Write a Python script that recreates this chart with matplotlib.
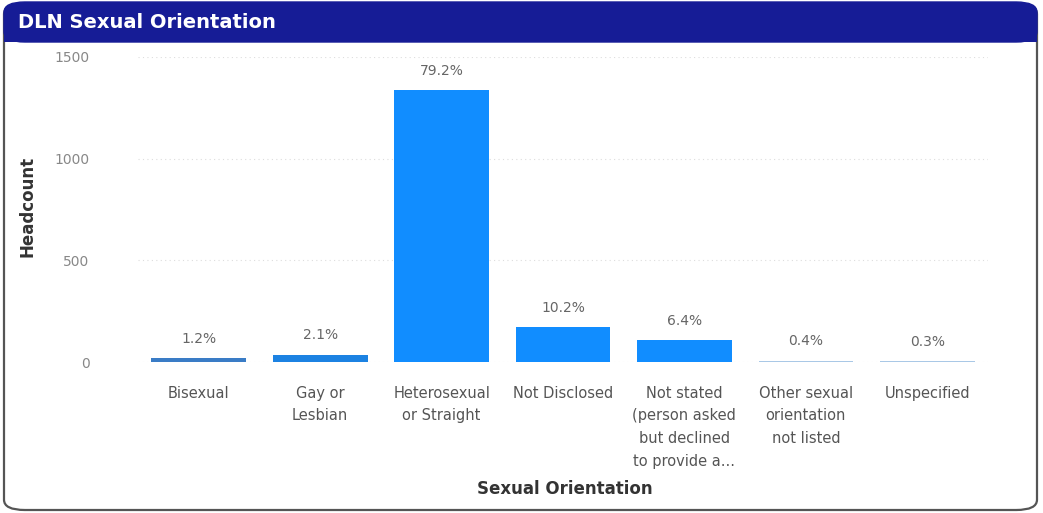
import matplotlib
matplotlib.use("Agg")
import matplotlib.pyplot as plt
from matplotlib.patches import FancyBboxPatch, Rectangle

categories = ["Bisexual", "Gay or\nLesbian", "Heterosexual\nor Straight", "Not Disclosed",
              "Not stated\n(person asked\nbut declined\nto provide a...",
              "Other sexual\norientation\nnot listed", "Unspecified"]
headcount = [20, 36, 1338, 172, 108, 7, 5]
pct_labels = ["1.2%", "2.1%", "79.2%", "10.2%", "6.4%", "0.4%", "0.3%"]
bar_colors = ["#3a7cc6", "#1c82e2", "#118DFF", "#118DFF", "#118DFF", "#a9c8e6", "#a9c8e6"]
y_ticks = [0, 500, 1000, 1500]

W, H = 1043, 513
fig = plt.figure(figsize=(W / 100, H / 100), dpi=100)
fig.patch.set_facecolor("white")

# card border
card = FancyBboxPatch((4 / W, 3 / H), 1033 / W, 506 / H,
                      boxstyle="round,pad=0,rounding_size=0.02",
                      transform=fig.transFigure, facecolor="none",
                      edgecolor="#555555", linewidth=1.6, zorder=0)
fig.patches.append(card)
# title bar
tb = FancyBboxPatch((4 / W, 471 / H), 1033 / W, 40 / H,
                    boxstyle="round,pad=0,rounding_size=0.02",
                    transform=fig.transFigure, facecolor="#161c96",
                    edgecolor="#161c96", linewidth=1, zorder=1)
fig.patches.append(tb)
fig.patches.append(Rectangle((4 / W, 471 / H), 1033 / W, 14 / H, transform=fig.transFigure,
                             facecolor="#161c96", edgecolor="none", zorder=1))
fig.text(18 / W, 491 / H, "DLN Sexual Orientation", color="white", fontsize=14,
         fontweight="bold", va="center", ha="left", zorder=2)

# axes: x from 138 to 988 px, y 0 at 362 px, 1500 at 57 px
left, right = 138, 988
bottom_px, top_px = 362, 57
ax = fig.add_axes([left / W, (H - bottom_px) / H, (right - left) / W, (bottom_px - top_px) / H])
ax.set_zorder(3)
ax.set_facecolor("none")
x = list(range(len(categories)))
ax.bar(x, headcount, width=0.78, color=bar_colors, zorder=3)
for xi, v, lab in zip(x, headcount, pct_labels):
    ax.text(xi, v + 60, lab, ha="center", va="bottom", fontsize=10, color="#666666")
ax.set_xlim(-0.5, 6.5)
ax.set_ylim(0, 1500)
ax.set_yticks(y_ticks)
ax.set_yticklabels([str(t) for t in y_ticks], fontsize=10, color="#888888")
ax.set_xticks(x)
ax.set_xticklabels(categories, fontsize=10.5, color="#555555", linespacing=1.65)
ax.tick_params(axis="both", length=0)
ax.tick_params(axis="y", pad=35)
ax.tick_params(axis="x", pad=17)
for sp in ax.spines.values():
    sp.set_visible(False)
ax.yaxis.grid(True, linestyle=(0, (1, 3)), color="#dddddd", linewidth=0.8)
ax.set_axisbelow(True)
ax.set_ylabel("Headcount", fontsize=12, fontweight="bold", color="#333333")
ax.yaxis.set_label_coords(-0.119, 0.51)
fig.text(565 / W, (H - 489) / H, "Sexual Orientation", fontsize=12, fontweight="bold",
         color="#333333", ha="center", va="center")

fig.savefig("out.png", dpi=100, facecolor="white")
